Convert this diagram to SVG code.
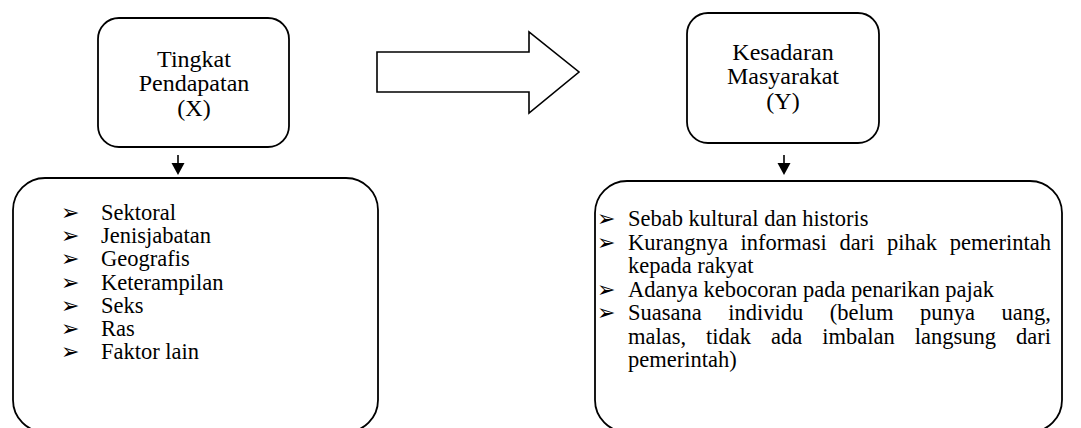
<svg xmlns="http://www.w3.org/2000/svg" width="1081" height="428" viewBox="0 0 1081 428">
  <style>
    .box { fill: #ffffff; stroke: #000000; stroke-width: 1.8; }
    .t { font-family: "Liberation Serif", "Times New Roman", serif; font-size: 22.5px; fill: #000000; }
    .h { font-family: "Liberation Serif", "Times New Roman", serif; font-size: 24px; fill: #000000; text-anchor: middle; }
    .b { font-family: "DejaVu Sans", sans-serif; font-size: 22px; fill: #000000; }
    .conn { stroke: #000000; stroke-width: 1.6; fill: none; }
    .head { fill: #000000; stroke: none; }
    .blk { fill: #ffffff; stroke: #000000; stroke-width: 1.6; stroke-linejoin: miter; }
  </style>
  <rect width="1081" height="428" fill="#ffffff"/>

  <g id="node-x">
    <rect class="box" x="98" y="18" width="191" height="129" rx="21" ry="21"/>
    <text class="h" x="194" y="66.5">Tingkat</text>
    <text class="h" x="194" y="91">Pendapatan</text>
    <text class="h" x="194" y="115.5">(X)</text>
  </g>

  <g id="node-y">
    <rect class="box" x="687" y="13" width="192" height="130" rx="21" ry="21"/>
    <text class="h" x="783" y="59.5">Kesadaran</text>
    <text class="h" x="783" y="84">Masyarakat</text>
    <text class="h" x="783" y="108.5">(Y)</text>
  </g>

  <g id="node-x-factors">
    <rect class="box" x="13" y="178" width="365" height="254" rx="32" ry="32"/>
    <text class="b" x="61" y="220">➢</text>
    <text class="b" x="61" y="243.2">➢</text>
    <text class="b" x="61" y="266.4">➢</text>
    <text class="b" x="61" y="289.6">➢</text>
    <text class="b" x="61" y="312.8">➢</text>
    <text class="b" x="61" y="336">➢</text>
    <text class="b" x="61" y="359.2">➢</text>
    <text class="t" x="101" y="220">Sektoral</text>
    <text class="t" x="101" y="243.2">Jenisjabatan</text>
    <text class="t" x="101" y="266.4">Geografis</text>
    <text class="t" x="101" y="289.6">Keterampilan</text>
    <text class="t" x="101" y="312.8">Seks</text>
    <text class="t" x="101" y="336">Ras</text>
    <text class="t" x="101" y="359.2">Faktor lain</text>
  </g>

  <g id="node-y-factors">
    <rect class="box" x="595" y="181" width="467" height="251" rx="32" ry="32"/>
    <text class="b" x="597" y="226">➢</text>
    <text class="b" x="597" y="249.5">➢</text>
    <text class="b" x="597" y="296.5">➢</text>
    <text class="b" x="597" y="320">➢</text>
    <text class="t" x="628" y="226">Sebab kultural dan historis</text>
    <text class="t" y="249.5"><tspan x="628">Kurangnya</tspan><tspan x="740.6">informasi</tspan><tspan x="839.5">dari</tspan><tspan x="887.1">pihak</tspan><tspan x="949.8">pemerintah</tspan></text>
    <text class="t" x="628" y="273">kepada rakyat</text>
    <text class="t" x="628" y="296.5">Adanya kebocoran pada penarikan pajak</text>
    <text class="t" y="320"><tspan x="628">Suasana</tspan><tspan x="728.3">individu</tspan><tspan x="829.8">(belum</tspan><tspan x="920.1">punya</tspan><tspan x="1001.6">uang,</tspan></text>
    <text class="t" y="343.5"><tspan x="628">malas,</tspan><tspan x="706.1">tidak</tspan><tspan x="771.1">ada</tspan><tspan x="822.3">imbalan</tspan><tspan x="914.8">langsung</tspan><tspan x="1016">dari</tspan></text>
    <text class="t" x="628" y="367">pemerintah)</text>
  </g>

  <g id="connectors">
    <polygon class="blk" points="377,52 529,52 529,32 579,72 529,113 529,92 377,92"/>
    <line class="conn" x1="178" y1="155" x2="178" y2="164"/>
    <polygon class="head" points="171.5,163 184.5,163 178,175"/>
    <line class="conn" x1="784" y1="155" x2="784" y2="164"/>
    <polygon class="head" points="777.5,163 790.5,163 784,175"/>
  </g>
</svg>
